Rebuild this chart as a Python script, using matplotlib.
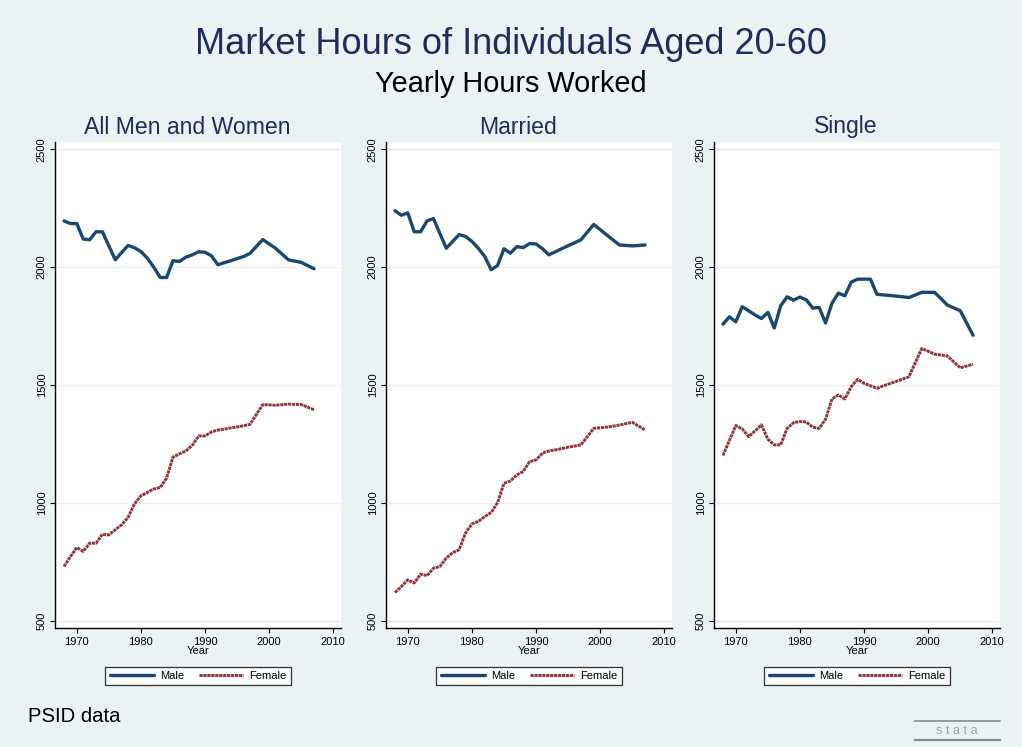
import matplotlib
matplotlib.use("Agg")
import matplotlib.pyplot as plt
from matplotlib.lines import Line2D

plt.rcParams['font.family'] = ['Liberation Sans', 'DejaVu Sans']

years = list(range(1968, 1998)) + [1999, 2001, 2003, 2005, 2007]

panel_titles = ["All Men and Women", "Married", "Single"]

all_male = [2196, 2185, 2185, 2119, 2116, 2150, 2150, 2090, 2031, 2062,
            2092, 2082, 2066, 2038, 2000, 1956, 1956, 2027, 2024, 2042,
            2052, 2065, 2063, 2048, 2010, 2019, 2027, 2036, 2045, 2058,
            2117, 2080, 2031, 2020, 1993]
all_female = [730, 772, 811, 794, 829, 829, 867, 864, 886, 907,
              939, 996, 1030, 1044, 1059, 1065, 1105, 1194, 1208, 1220,
              1244, 1284, 1284, 1301, 1309, 1313, 1318, 1322, 1327, 1333,
              1417, 1414, 1419, 1417, 1395]
married_male = [2239, 2220, 2230, 2150, 2150, 2196, 2206, 2143, 2080, 2109,
                2138, 2130, 2109, 2080, 2045, 1989, 2007, 2078, 2059, 2087,
                2083, 2100, 2098, 2078, 2052, 2065, 2078, 2091, 2103, 2116,
                2181, 2137, 2094, 2090, 2094]
married_female = [620, 645, 674, 660, 698, 691, 723, 730, 766, 789,
                  801, 872, 911, 921, 942, 959, 1001, 1083, 1093, 1119,
                  1133, 1175, 1182, 1211, 1220, 1225, 1230, 1236, 1241, 1246,
                  1316, 1321, 1330, 1342, 1309]
single_male = [1758, 1789, 1768, 1832, 1815, 1797, 1782, 1808, 1742, 1836,
               1874, 1860, 1873, 1861, 1826, 1829, 1763, 1847, 1890, 1878,
               1936, 1949, 1949, 1949, 1885, 1882, 1880, 1877, 1874, 1871,
               1893, 1893, 1839, 1815, 1711]
single_female = [1201, 1265, 1328, 1314, 1281, 1305, 1331, 1270, 1246, 1246,
                 1316, 1340, 1345, 1343, 1321, 1316, 1355, 1441, 1458, 1441,
                 1493, 1524, 1507, 1497, 1486, 1496, 1506, 1515, 1525, 1535,
                 1655, 1631, 1623, 1573, 1588]

male_series = [all_male, married_male, single_male]
female_series = [all_female, married_female, single_female]

x_ticks = [1970, 1980, 1990, 2000, 2010]
y_ticks = [500, 1000, 1500, 2000, 2500]

BG = "#eaf2f3"
NAVY = "#1a476f"
MAROON = "#90353b"
TITLE_C = "#1e2d5a"

W, H = 1022, 747
fig = plt.figure(figsize=(W / 100, H / 100), dpi=100, facecolor=BG)

lefts = [55, 386, 714]
ax_w = 286
top_px, bot_px = 141.7, 628.3

for i in range(3):
    ax = fig.add_axes([lefts[i] / W, 1 - bot_px / H, ax_w / W, (bot_px - top_px) / H])
    ax.set_facecolor("white")
    ax.set_xlim(1966.6, 2011.2)
    ax.set_ylim(468, 2532)
    ax.set_xticks(x_ticks)
    ax.set_yticks(y_ticks)
    ax.set_xticklabels([str(t) for t in x_ticks], fontsize=8)
    ax.set_yticklabels([str(t) for t in y_ticks], fontsize=8, rotation=90, va='center')
    ax.tick_params(axis='x', direction='out', length=3.5, width=0.8, color='black', pad=3)
    ax.tick_params(axis='y', direction='out', length=3.5, width=0.8, color='black', pad=2.5)
    for s in ['top', 'right']:
        ax.spines[s].set_visible(False)
    for s in ['left', 'bottom']:
        ax.spines[s].set_linewidth(1.0)
    ax.grid(axis='y', color=BG, linewidth=1.0)
    ax.set_axisbelow(True)
    lm, = ax.plot(years, male_series[i], color=NAVY, linewidth=2.4, solid_capstyle='round',
                  solid_joinstyle='round', label="Male")
    lf, = ax.plot(years, female_series[i], color=MAROON, linewidth=2.1,
                  linestyle=(0, (1.1, 0.25)), dash_capstyle='butt', label="Female")
    ax.set_xlabel("Year", fontsize=8, labelpad=-1)
    # panel title centred over the graph region (incl. y labels)
    tx = (lefts[i] - 11 + ax_w / 2) / W
    fig.text(tx, 1 - 127 / H, panel_titles[i], ha='center', va='center',
             fontsize=16.6, color=TITLE_C)
    cx = (lefts[i] + ax_w / 2) / W
    leg = ax.legend(handles=[lm, lf], loc='center', bbox_to_anchor=(cx, 1 - 676 / H),
                    bbox_transform=fig.transFigure, ncol=2, fontsize=8, frameon=True,
                    fancybox=False, edgecolor='black', handlelength=4.0, columnspacing=1.3,
                    handletextpad=0.55, borderpad=0.4, borderaxespad=0)
    leg.get_frame().set_linewidth(0.9)
    leg.get_frame().set_facecolor('white')

fig.text(0.5, 1 - 44 / H, "Market Hours of Individuals Aged 20-60", ha='center', va='center',
         fontsize=26, color=TITLE_C)
fig.text(0.5, 1 - 84 / H, "Yearly Hours Worked", ha='center', va='center',
         fontsize=20.8, color='black')
fig.text(28 / W, 1 - 717 / H, "PSID data", ha='left', va='center', fontsize=14.6, color='black')

# stata logo
fig.add_artist(Line2D([915 / W, 1000 / W], [1 - 721 / H, 1 - 721 / H], color='#8a8a8a', linewidth=1.2))
fig.add_artist(Line2D([915 / W, 1000 / W], [1 - 739.5 / H, 1 - 739.5 / H], color='#8a8a8a', linewidth=1.6))
fig.text(957 / W, 1 - 731 / H, "s t a t a", ha='center', va='center', fontsize=9, color='#a0a0a0')

fig.savefig("out.png", dpi=100, facecolor=BG)
